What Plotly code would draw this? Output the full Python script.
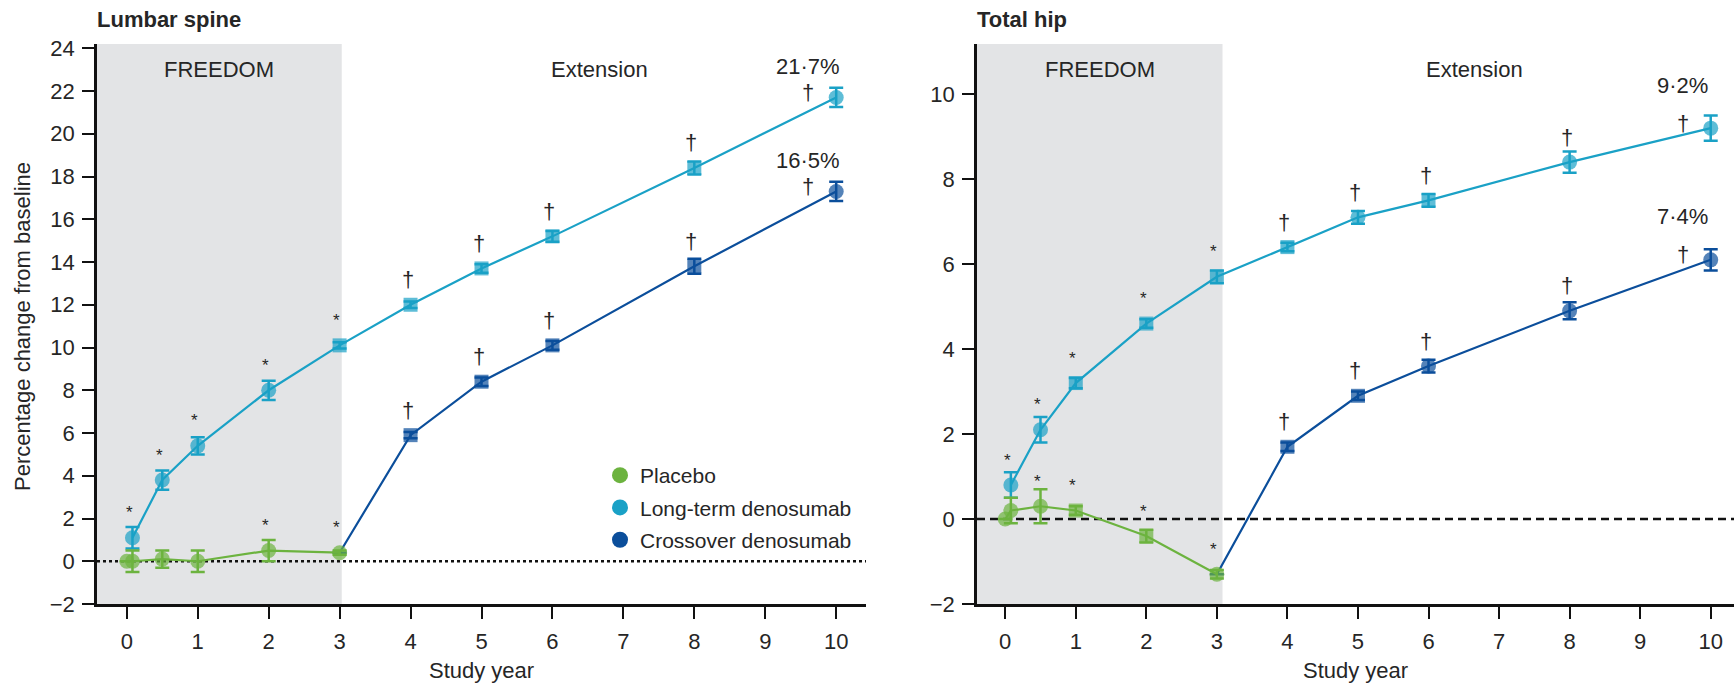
import plotly.graph_objects as go

# ------------------------------------------------------------------ data
tick_years = list(range(0, 11))

# Lumbar spine
ls_placebo_x = [0, 0.08, 0.5, 1, 2, 3]
ls_placebo_y = [0.0, 0.0, 0.1, 0.0, 0.5, 0.4]
ls_placebo_err = [None, 0.5, 0.4, 0.5, 0.5, 0.1]
ls_placebo_sym = ["circle", "circle", "circle", "circle", "circle", "circle"]
ls_placebo_sig = ["", "", "", "", "*", "*"]

ls_lt_x = [0.08, 0.5, 1, 2, 3, 4, 5, 6, 8, 10]
ls_lt_y = [1.1, 3.8, 5.4, 8.0, 10.1, 12.0, 13.7, 15.2, 18.4, 21.7]
ls_lt_err = [0.5, 0.45, 0.4, 0.45, 0.15, 0.15, 0.2, 0.25, 0.3, 0.45]
ls_lt_sym = ["circle", "circle", "circle", "circle", "square", "square", "square", "square", "square", "circle"]
ls_lt_sig = ["*", "*", "*", "*", "*", "†", "†", "†", "†", "†"]

ls_co_x = [3, 4, 5, 6, 8, 10]
ls_co_y = [0.4, 5.9, 8.4, 10.1, 13.8, 17.3]
ls_co_err = [None, 0.15, 0.2, 0.2, 0.35, 0.45]
ls_co_sym = ["circle", "square", "square", "square", "square", "circle"]
ls_co_sig = ["", "†", "†", "†", "†", "†"]

ls_lt_end_label = "21·7%"
ls_co_end_label = "16·5%"

# Total hip
th_placebo_x = [0, 0.08, 0.5, 1, 2, 3]
th_placebo_y = [0.0, 0.2, 0.3, 0.2, -0.4, -1.3]
th_placebo_err = [None, 0.3, 0.4, 0.1, 0.15, 0.1]
th_placebo_sym = ["circle", "circle", "circle", "square", "square", "circle"]
th_placebo_sig = ["", "", "*", "*", "*", "*"]

th_lt_x = [0.08, 0.5, 1, 2, 3, 4, 5, 6, 8, 10]
th_lt_y = [0.8, 2.1, 3.2, 4.6, 5.7, 6.4, 7.1, 7.5, 8.4, 9.2]
th_lt_err = [0.3, 0.3, 0.12, 0.1, 0.15, 0.1, 0.15, 0.15, 0.25, 0.3]
th_lt_sym = ["circle", "circle", "square", "square", "square", "square", "circle", "square", "circle", "circle"]
th_lt_sig = ["*", "*", "*", "*", "*", "†", "†", "†", "†", "†"]

th_co_x = [3, 4, 5, 6, 8, 10]
th_co_y = [-1.3, 1.7, 2.9, 3.6, 4.9, 6.1]
th_co_err = [None, 0.1, 0.1, 0.15, 0.2, 0.25]
th_co_sym = ["circle", "square", "square", "circle", "circle", "circle"]
th_co_sig = ["", "†", "†", "†", "†", "†"]

th_lt_end_label = "9·2%"
th_co_end_label = "7·4%"

series_names = ["Placebo", "Long-term denosumab", "Crossover denosumab"]
panel_titles = ["Lumbar spine", "Total hip"]
period_labels = ["FREEDOM", "Extension"]
x_title = "Study year"
y_title = "Percentage change from baseline"

# ------------------------------------------------------------------ style
W, H = 1734, 685
FONT = "Liberation Sans, Arial, Helvetica, sans-serif"
TXT = "#262626"
C_PLA = "#6cb33f"
C_LT = "#1aa1c6"
C_CO = "#0b4e9b"
GRAY = "#e3e4e6"
FS = 22
MS = 15

Y_DOM = [1 - 604 / H, 1 - 44 / H]
panels = [
    dict(xa="x", ya="y", xdom=[97 / W, 866 / W], xr=[-0.42, 10.42], yr=[-2, 24.2],
         ytv=list(range(-2, 25, 2)), freedom_end=3.03, zero_dash="dot", lab_dy=31,
         pla=(ls_placebo_x, ls_placebo_y, ls_placebo_err, ls_placebo_sym, ls_placebo_sig),
         lt=(ls_lt_x, ls_lt_y, ls_lt_err, ls_lt_sym, ls_lt_sig),
         co=(ls_co_x, ls_co_y, ls_co_err, ls_co_sym, ls_co_sig),
         labels=(ls_lt_end_label, ls_co_end_label), title=panel_titles[0], title_x=95),
    dict(xa="x2", ya="y2", xdom=[977 / W, 1.0], xr=[-0.40, 10.33], yr=[-2, 11.18],
         ytv=list(range(-2, 11, 2)), freedom_end=3.08, zero_dash="8px,5px", lab_dy=43,
         pla=(th_placebo_x, th_placebo_y, th_placebo_err, th_placebo_sym, th_placebo_sig),
         lt=(th_lt_x, th_lt_y, th_lt_err, th_lt_sym, th_lt_sig),
         co=(th_co_x, th_co_y, th_co_err, th_co_sym, th_co_sig),
         labels=(th_lt_end_label, th_co_end_label), title=panel_titles[1], title_x=975),
]

fig = go.Figure()
annotations = []
shapes = []


def txt(size=FS):
    return dict(family=FONT, size=size, color=TXT)


def add_series(p, data, color, hide_first=False):
    xs, ys, errs, syms, sigs = data
    sizes = [MS if s == "circle" else MS - 1 for s in syms]
    if hide_first:
        sizes[0] = 0
    fig.add_trace(go.Scatter(
        x=xs, y=ys, xaxis=p["xa"], yaxis=p["ya"], mode="lines+markers",
        line=dict(color=color, width=2.2),
        marker=dict(color=color, size=sizes, symbol=syms, line=dict(width=0)),
        error_y=dict(type="data", array=errs, visible=True, color=color, thickness=2.5, width=7),
        showlegend=False, hoverinfo="skip", cliponaxis=False))
    xmax = max(xs)
    for xv, yv, s in zip(xs, ys, sigs):
        if not s:
            continue
        if s == "*":
            dx, dy, fs = -3, 25, 17
        elif xv == xmax:
            dx, dy, fs = -28, 5, FS
        else:
            dx, dy, fs = -3, 25, FS
        annotations.append(dict(x=xv, y=yv, xref=p["xa"], yref=p["ya"], text=s, showarrow=False,
                                xanchor="center", yanchor="middle",
                                xshift=dx, yshift=dy, font=txt(fs)))


for p in panels:
    # FREEDOM shaded period
    shapes.append(dict(type="rect", xref=p["xa"], yref=p["ya"] + " domain", x0=p["xr"][0], x1=p["freedom_end"],
                       y0=0, y1=1, fillcolor=GRAY, line=dict(width=0), layer="below"))
    # zero reference line
    shapes.append(dict(type="line", xref=p["xa"] + " domain", yref=p["ya"], x0=0, x1=1, y0=0, y1=0,
                       line=dict(color="#111111", width=2.5, dash=p["zero_dash"]), layer="below"))
    add_series(p, p["co"], C_CO, hide_first=True)
    add_series(p, p["lt"], C_LT)
    add_series(p, p["pla"], C_PLA)

    # end labels
    for data, lab in zip((p["lt"], p["co"]), p["labels"]):
        annotations.append(dict(x=data[0][-1], y=data[1][-1], xref=p["xa"], yref=p["ya"], text=lab,
                                showarrow=False, xanchor="center", yanchor="middle",
                                xshift=-28, yshift=p["lab_dy"], font=txt()))
    # period labels
    annotations.append(dict(x=(p["xr"][0] + p["freedom_end"]) / 2, y=1 - 70 / H, xref=p["xa"], yref="paper",
                            xanchor="center", yanchor="middle",
                            text=period_labels[0], showarrow=False, font=txt()))
    annotations.append(dict(x=(p["xr"][1] + p["freedom_end"]) / 2, y=1 - 70 / H, xref=p["xa"], yref="paper",
                            xanchor="center", yanchor="middle", xshift=-4,
                            text=period_labels[1], showarrow=False, font=txt()))
    # panel title
    annotations.append(dict(x=p["title_x"] / W, y=1 - 20 / H, xref="paper", yref="paper",
                            xanchor="left", yanchor="middle",
                            text="<b>" + p["title"] + "</b>", showarrow=False, font=txt()))
    # x title
    annotations.append(dict(x=(p["xr"][0] + p["xr"][1]) / 2, y=1 - 670 / H, xref=p["xa"], yref="paper",
                            xanchor="center", yanchor="middle",
                            text=x_title, showarrow=False, font=txt()))
    # small dots under the x ticks
    px_per_unit = (Y_DOM[1] - Y_DOM[0]) * H / (p["yr"][1] - p["yr"][0])
    fig.add_trace(go.Scatter(x=tick_years, y=[p["yr"][0] - 19 / px_per_unit] * len(tick_years),
                             xaxis=p["xa"], yaxis=p["ya"], mode="markers", cliponaxis=False,
                             marker=dict(color="#333333", size=3.5), showlegend=False, hoverinfo="skip"))

annotations.append(dict(x=22 / W, y=1 - 327 / H, xref="paper", yref="paper", text=y_title, textangle=-90,
                        xanchor="center", yanchor="middle", showarrow=False, font=txt()))

# legend entries (marker only)
for name, col in zip(series_names, [C_PLA, C_LT, C_CO]):
    fig.add_trace(go.Scatter(x=[None], y=[None], mode="markers", name=name, legendgroup=name,
                             marker=dict(color=col, size=17, symbol="circle")))

axis_common = dict(showline=True, linecolor="#111111", linewidth=2.5, ticks="outside", ticklen=12,
                   tickwidth=2, tickcolor="#111111", showgrid=False, zeroline=False, automargin=False,
                   tickfont=txt())

fig.update_layout(
    width=W, height=H, margin=dict(l=0, r=0, t=0, b=0, pad=0, autoexpand=False),
    plot_bgcolor="white", paper_bgcolor="white",
    font=txt(),
    xaxis=dict(domain=panels[0]["xdom"], range=panels[0]["xr"], anchor="y", tickvals=tick_years,
               ticklabelstandoff=4, **axis_common),
    yaxis=dict(domain=Y_DOM, range=panels[0]["yr"], anchor="x", tickvals=panels[0]["ytv"],
               ticklabelstandoff=3, **axis_common),
    xaxis2=dict(domain=panels[1]["xdom"], range=panels[1]["xr"], anchor="y2", tickvals=tick_years,
                ticklabelstandoff=4, **axis_common),
    yaxis2=dict(domain=Y_DOM, range=panels[1]["yr"], anchor="x2", tickvals=panels[1]["ytv"],
                ticklabelstandoff=3, **axis_common),
    legend=dict(x=600 / W, y=1 - 455 / H, xanchor="left", yanchor="top", bgcolor="rgba(0,0,0,0)",
                font=txt(21), traceorder="grouped", tracegroupgap=2),
    shapes=shapes, annotations=annotations,
)

fig.write_html("out.html", config={"displayModeBar": False},
               post_script="document.body.style.margin='0';document.body.style.overflow='hidden';")
